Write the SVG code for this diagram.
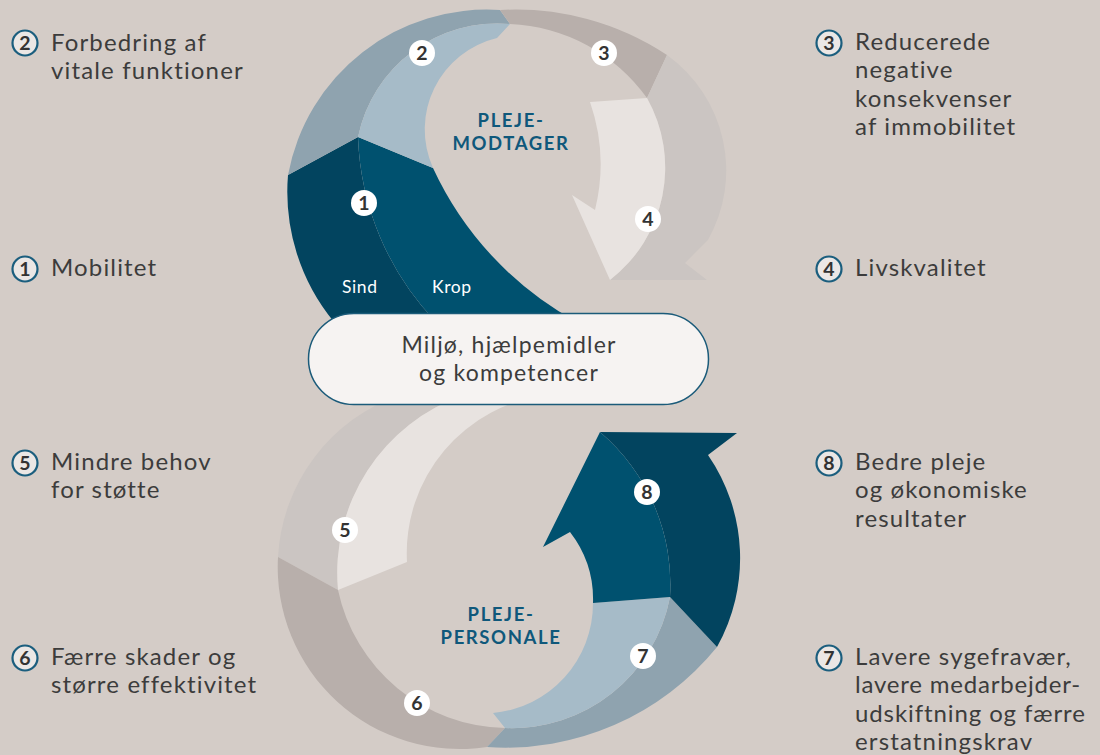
<svg xmlns="http://www.w3.org/2000/svg" width="1100" height="755" viewBox="0 0 1100 755">
<style>
.t{font-family:Lato,"Open Sans",sans-serif;font-size:24px;fill:#3c3c3c;letter-spacing:1.15px}
.hd{font-family:Lato,"Open Sans",sans-serif;font-weight:bold;font-size:18.5px;fill:#0f587b;letter-spacing:1.6px;text-anchor:middle}
.pill{font-family:Lato,"Open Sans",sans-serif;font-size:23px;fill:#3c3c3c;letter-spacing:1.2px;text-anchor:middle}
.wt{font-family:Lato,"Open Sans",sans-serif;font-size:17.5px;fill:#ffffff;letter-spacing:0.6px}
.n{font-family:Lato,"Open Sans",sans-serif;font-weight:bold;font-size:19.5px;fill:#333333;text-anchor:middle}
.bdg{fill:#ffffff}
.lg{fill:#ebe7e5;stroke:#1b5e7e;stroke-width:2.2}
.c-do{fill:#02445f}.c-di{fill:#00516f}
.c-bo{fill:#8fa3af}.c-bi{fill:#a6bbc8}
.c-t{fill:#b8afab}
.c-go{fill:#cbc5c2}.c-gi{fill:#e8e3e0}
</style>
<rect width="1100" height="755" fill="#d4ccc7"/>

<g id="connectors">
  <!-- top loop (pleje-modtager) -->
  <path class="c-do" d="M334 322 A205 205 0 0 1 288 175 L358 137 A281 281 0 0 0 436 322 Z"/>
  <path class="c-di" d="M358 137 L433 168 A336 336 0 0 0 577 322 L436 322 A281 281 0 0 1 358 137 Z"/>
  <path class="c-bo" d="M288 175 A202 202 0 0 1 500 10 L510 24 A142 142 0 0 0 358 137 Z"/>
  <path class="c-bi" d="M358 137 A142 142 0 0 1 510 24 L497 38 A94 94 0 0 0 433 168 Z"/>
  <path class="c-t" d="M500 10 A274 274 0 0 1 667 55 L647 98 A177 177 0 0 0 510 24 Z"/>
  <path class="c-go" d="M667 55 A142 142 0 0 1 708 240 L685 263 L707 280 L610 280 A142 142 0 0 0 647 98 Z"/>
  <path class="c-gi" d="M590 102 L647 98 A142 142 0 0 1 610 280 L572 195 L595 210 A190 190 0 0 0 590 102 Z"/>
  <!-- bottom loop (pleje-personale) -->
  <path class="c-go" d="M400 395 A182 182 0 0 0 278 557 L338 590 A188 188 0 0 1 464 395 Z"/>
  <path class="c-gi" d="M464 395 A188 188 0 0 0 338 590 L407 562 A159 159 0 0 1 548 395 Z"/>
  <path class="c-t" d="M278 557 A182 182 0 0 0 487 747 L505 728 A174 174 0 0 1 338 590 Z"/>
  <path class="c-bo" d="M487 747 A272 272 0 0 0 717 647 L670 597 A161 161 0 0 1 505 728 Z"/>
  <path class="c-bi" d="M505 728 A161 161 0 0 0 670 597 L593 603 A110 110 0 0 1 493 713 Z"/>
  <path class="c-do" d="M717 647 A182 182 0 0 0 708 455 L737 433 L600 432 A200 200 0 0 1 670 597 Z"/>
  <path class="c-di" d="M600 432 A200 200 0 0 1 670 597 L593 603 A110 110 0 0 0 570 532 L543 547 Z"/>
</g>

<g id="center-pill">
  <rect x="308.5" y="313.5" width="400" height="91" rx="45.5" fill="#f6f3f2" stroke="#1b5b7a" stroke-width="1.5"/>
  <text class="pill" x="509" y="353">Miljø, hjælpemidler</text>
  <text class="pill" x="509" y="381">og kompetencer</text>
</g>

<g id="loop-labels">
  <text class="hd" x="511" y="127">PLEJE-</text>
  <text class="hd" x="511" y="150">MODTAGER</text>
  <text class="hd" x="501" y="621">PLEJE-</text>
  <text class="hd" x="501" y="644">PERSONALE</text>
  <text class="wt" x="342" y="293">Sind</text>
  <text class="wt" x="432" y="293">Krop</text>
</g>

<g id="badges">
  <g id="b1"><circle class="bdg" cx="364" cy="203" r="13"/><text class="n" x="364" y="210">1</text></g>
  <g id="b2"><circle class="bdg" cx="422" cy="53" r="13"/><text class="n" x="422" y="60">2</text></g>
  <g id="b3"><circle class="bdg" cx="604" cy="53" r="13"/><text class="n" x="604" y="60">3</text></g>
  <g id="b4"><circle class="bdg" cx="648" cy="219" r="13"/><text class="n" x="648" y="226">4</text></g>
  <g id="b5"><circle class="bdg" cx="345" cy="530" r="13"/><text class="n" x="345" y="537">5</text></g>
  <g id="b6"><circle class="bdg" cx="417" cy="703" r="13"/><text class="n" x="417" y="710">6</text></g>
  <g id="b7"><circle class="bdg" cx="643" cy="656" r="13"/><text class="n" x="643" y="663">7</text></g>
  <g id="b8"><circle class="bdg" cx="647" cy="492" r="13"/><text class="n" x="647" y="499">8</text></g>
</g>

<g id="legend-2"><circle class="lg" cx="25" cy="43" r="12.5"/><text class="n" x="25" y="50">2</text>
  <text class="t" x="51" y="51">Forbedring af</text><text class="t" x="51" y="79">vitale funktioner</text></g>
<g id="legend-1"><circle class="lg" cx="25" cy="269" r="12.5"/><text class="n" x="25" y="276">1</text>
  <text class="t" x="51" y="276">Mobilitet</text></g>
<g id="legend-5"><circle class="lg" cx="25" cy="463" r="12.5"/><text class="n" x="25" y="470">5</text>
  <text class="t" x="51" y="470">Mindre behov</text><text class="t" x="51" y="498">for støtte</text></g>
<g id="legend-6"><circle class="lg" cx="25" cy="658" r="12.5"/><text class="n" x="25" y="665">6</text>
  <text class="t" x="51" y="665">Færre skader og</text><text class="t" x="51" y="693">større effektivitet</text></g>
<g id="legend-3"><circle class="lg" cx="829" cy="43" r="12.5"/><text class="n" x="829" y="50">3</text>
  <text class="t" x="855" y="50">Reducerede</text><text class="t" x="855" y="78">negative</text>
  <text class="t" x="855" y="107">konsekvenser</text><text class="t" x="855" y="135">af immobilitet</text></g>
<g id="legend-4"><circle class="lg" cx="829" cy="269" r="12.5"/><text class="n" x="829" y="276">4</text>
  <text class="t" x="855" y="276">Livskvalitet</text></g>
<g id="legend-8"><circle class="lg" cx="829" cy="463" r="12.5"/><text class="n" x="829" y="470">8</text>
  <text class="t" x="855" y="470">Bedre pleje</text><text class="t" x="855" y="498">og økonomiske</text><text class="t" x="855" y="527">resultater</text></g>
<g id="legend-7"><circle class="lg" cx="829" cy="658" r="12.5"/><text class="n" x="829" y="665">7</text>
  <text class="t" x="855" y="665">Lavere sygefravær,</text><text class="t" x="855" y="693" style="letter-spacing:0.8px">lavere medarbejder-</text>
  <text class="t" x="855" y="722" style="letter-spacing:0.9px">udskiftning og færre</text><text class="t" x="855" y="750">erstatningskrav</text></g>
</svg>
